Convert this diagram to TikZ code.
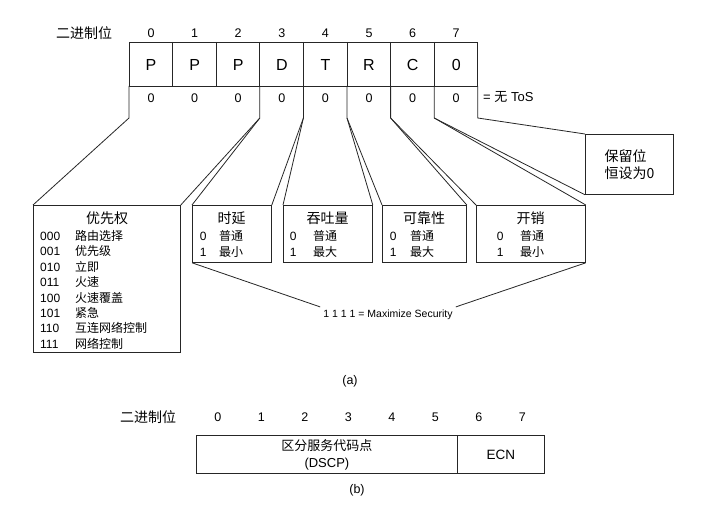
\documentclass[tikz,border=0pt]{standalone}
\usepackage{fontspec}
\setmainfont{Liberation Sans}
\newfontfamily\cjk{Noto Sans CJK SC}
\begin{document}
\begin{tikzpicture}[x=1pt,y=-1pt,
  ln/.style={line width=0.8pt, draw=black!85},
  box/.style={ln, rectangle, inner sep=0pt, anchor=north west},
  lbl/.style={font=\fontsize{12.5}{14}\selectfont, inner sep=0pt},
  bitch/.style={font=\fontsize{16}{18}\selectfont, inner sep=0pt},
  zero/.style={font=\fontsize{12.5}{14}\selectfont, inner sep=0pt},
  cnt/.style={font=\cjk\fontsize{14}{17}\selectfont, inner sep=0pt},
  item/.style={font=\fontsize{12}{14}\selectfont, anchor=base west, inner sep=0pt},
  cnitem/.style={font=\cjk\fontsize{12}{14}\selectfont, anchor=base west, inner sep=0pt},
]
\useasboundingbox (0,0) rectangle (704,513);

% ---------- (a) ----------
\node[cnt] (hdrA) at (84,33) {二进制位};
\foreach \i in {0,...,7} \node[lbl] (ba\i) at (151+43.6*\i,33) {\i};

\draw[ln] (129,42) rectangle (477.8,86);
\foreach \i in {1,...,7} \draw[ln] (129+43.6*\i,42) -- (129+43.6*\i,86);
\foreach \l [count=\i from 0] in {P,P,P,D,T,R,C,0}
  \node[bitch] (bit\i) at (151+43.6*\i,65) {\l};
\foreach \i in {0,...,7} \node[zero] (z\i) at (151+43.6*\i,98) {0};
\node[font=\fontsize{13}{15}\selectfont, anchor=west, inner sep=0pt] (notos) at (483,97) {= {\cjk 无} ToS};

\foreach \n/\x in {0/129, 3/259.8, 4/303.4, 5/347, 6/390.6, 7/434.2, 8/477.8} {
  \coordinate (t\n) at (\x,86);
  \coordinate (f\n) at (\x,118);
}

% boxes
\node[box, minimum width=147pt, minimum height=147pt] (prio) at (33,205) {};
\node[box, minimum width=79pt, minimum height=57pt] (delay) at (192,205) {};
\node[box, minimum width=89pt, minimum height=57pt] (thru) at (283,205) {};
\node[box, minimum width=84pt, minimum height=57pt] (rel) at (382,205) {};
\node[box, minimum width=109pt, minimum height=57pt] (cost) at (476,205) {};
\node[box, minimum width=88pt, minimum height=60pt, align=left,
      font=\cjk\fontsize{14}{17}\selectfont] (resv) at (585,134) {保留位\\恒设为0};

% priority contents
\node[cnt] (prioT) at (107,218) {优先权};
\foreach \c/\t [count=\i from 0] in {000/路由选择,001/优先级,010/立即,011/火速,100/火速覆盖,101/紧急,110/互连网络控制,111/网络控制} {
  \node[item] (pc\i) at (40,240.5+15.4*\i) {\c};
  \node[cnitem] (pt\i) at (75,240.5+15.4*\i) {\t};
}

% small boxes contents
\foreach \nm/\tt/\cx/\dx/\wx/\wa/\wb in {dl/时延/231.5/199.7/219/普通/最小, th/吞吐量/327.5/289.6/313/普通/最大, rl/可靠性/424/389.6/410/普通/最大, cs/开销/530.5/496.6/520/普通/最小} {
  \node[cnt] (\nm T) at (\cx,218) {\tt};
  \node[item] (\nm D0) at (\dx,240.5) {0};
  \node[item] (\nm D1) at (\dx,256.5) {1};
  \node[cnitem] (\nm W0) at (\wx,240.5) {\wa};
  \node[cnitem] (\nm W1) at (\wx,256.5) {\wb};
}

% funnels
\draw[ln] (t0) -- (f0) -- (prio.north west);
\draw[ln] (t3) -- (f3) -- (prio.north east);
\draw[ln] (f3) -- (delay.north west);
\draw[ln] (t4) -- (f4) -- (delay.north east);
\draw[ln] (f4) -- (thru.north west);
\draw[ln] (t5) -- (f5) -- (thru.north east);
\draw[ln] (f5) -- (rel.north west);
\draw[ln] (t6) -- (f6) -- (rel.north east);
\draw[ln] (f6) -- (cost.north west);
\draw[ln] (t7) -- (f7) -- (cost.north east);
\draw[ln] (f7) -- (resv.south west);
\draw[ln] (t8) -- (f8) -- (resv.north west);

% security
\node[font=\fontsize{10.5}{12}\selectfont, inner sep=3pt] (sec) at (388,315) {1 1 1 1 = Maximize Security};
\draw[ln] (delay.south west) -- (sec.north west);
\draw[ln] (cost.south east) -- (sec.north east);

\node[lbl] (capA) at (350,381) {(a)};

% ---------- (b) ----------
\node[cnt] (hdrB) at (148,417) {二进制位};
\foreach \i in {0,...,7} \node[lbl] (bb\i) at (217.8+43.5*\i,417) {\i};
\node[box, minimum width=261pt, minimum height=38pt, align=center,
      font=\fontsize{13}{17}\selectfont] (dscp) at (196,435) {{\cjk 区分服务代码点}\\(DSCP)};
\node[box, minimum width=87pt, minimum height=38pt,
      font=\fontsize{13.5}{15}\selectfont] (ecn) at (457,435) {ECN};
\node[lbl] (capB) at (357,490) {(b)};
\end{tikzpicture}
\end{document}
